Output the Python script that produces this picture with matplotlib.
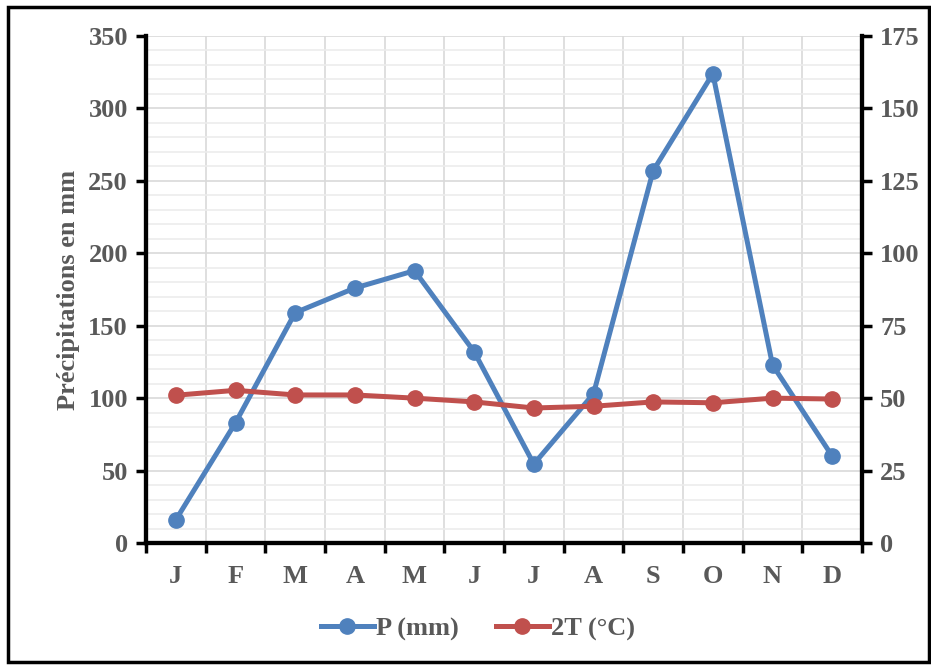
import matplotlib
matplotlib.use("Agg")
import matplotlib.pyplot as plt
from matplotlib.ticker import MultipleLocator
from matplotlib.patches import Rectangle

months = ["J", "F", "M", "A", "M", "J", "J", "A", "S", "O", "N", "D"]
precip = [16, 83, 159, 176, 188, 132, 54.5, 103, 257, 324, 123, 60]
temp2 = [51.0, 52.7, 51.1, 51.1, 50.0, 48.7, 46.6, 47.2, 48.7, 48.4, 50.0, 49.7]

blue = "#4f81bd"
red = "#c0504d"
grey = "#595959"
fs = 19

plt.rcParams["font.family"] = ["Liberation Serif", "DejaVu Serif"]
plt.rcParams["font.weight"] = "bold"

fig = plt.figure(figsize=(9.31, 6.66), dpi=100)
ax = fig.add_axes([146 / 931, 1 - 543 / 666, (862 - 146) / 931, (543 - 36) / 666])
ax2 = ax.twinx()

x = list(range(len(months)))
ax.plot(x, precip, color=blue, lw=3.6, marker="o", ms=11, label="P (mm)", zorder=3)
ax2.plot(x, temp2, color=red, lw=3.6, marker="o", ms=11, label="2T (°C)", zorder=3)

ax.set_xlim(-0.5, 11.5)
ax.set_ylim(0, 350)
ax2.set_ylim(0, 175)
ax.yaxis.set_major_locator(MultipleLocator(50))
ax.yaxis.set_minor_locator(MultipleLocator(10))
ax2.yaxis.set_major_locator(MultipleLocator(25))

# category boundaries carry the ticks and vertical grid
ax.set_xticks([i - 0.5 for i in range(13)])
ax.set_xticklabels([])
ax.set_xticks(x, minor=True)
ax.set_xticklabels(months, minor=True)
ax.tick_params(axis="x", which="minor", length=0, pad=16, labelsize=fs, labelcolor=grey)
ax.tick_params(axis="x", which="major", length=7, width=2.5, color="black")

ax.grid(axis="x", which="major", color="#d9d9d9", lw=1.2)
ax.grid(axis="y", which="major", color="#d9d9d9", lw=1.2)
ax.grid(axis="y", which="minor", color="#ececec", lw=1.2)
ax.set_axisbelow(True)

ax.tick_params(axis="y", which="major", length=7, width=2.5, labelsize=fs, labelcolor=grey, pad=6)
ax.tick_params(axis="y", which="minor", length=0)
ax2.tick_params(axis="y", length=7, width=2.5, labelsize=fs, labelcolor=grey, pad=6)

for a in (ax, ax2):
    a.spines["top"].set_visible(False)
    for s in ("left", "right", "bottom"):
        a.spines[s].set_linewidth(3)
        a.spines[s].set_color("black")

ax.set_ylabel("Précipitations en mm", fontsize=fs, color=grey, fontweight="bold", labelpad=6)

h1, l1 = ax.get_legend_handles_labels()
h2, l2 = ax2.get_legend_handles_labels()
fig.legend(h1 + h2, l1 + l2, loc="center", bbox_to_anchor=(478 / 931, 1 - 629 / 666),
           ncol=2, frameon=False, fontsize=fs, labelcolor=grey, handlelength=2.0,
           handletextpad=0.1, columnspacing=1.4)

fig.patches.append(Rectangle((8 / 931, 4 / 666), 921 / 931, 655 / 666, transform=fig.transFigure,
                             fill=False, edgecolor="black", lw=2.5))

fig.savefig("out.png", dpi=100)
